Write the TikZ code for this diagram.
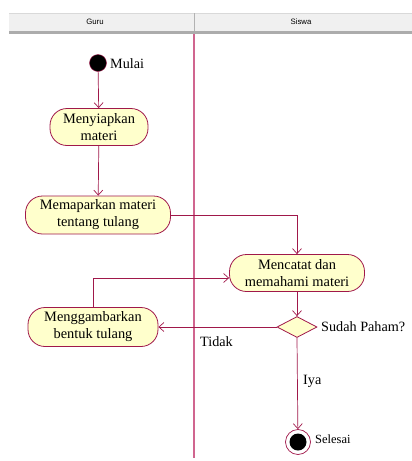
\documentclass[tikz,border=0pt]{standalone}
\usepackage{fontspec}
\setmainfont{Liberation Serif}
\newfontfamily\headfont{Liberation Sans}
\usetikzlibrary{arrows.meta,shapes.geometric}
\definecolor{lane}{HTML}{D0658F}
\definecolor{flow}{HTML}{A0184A}
\definecolor{actfill}{HTML}{FFFFCC}
\begin{document}
\begin{tikzpicture}[x=1pt,y=-1pt,
  act/.style={draw=flow, fill=actfill, line width=0.8pt, rounded corners=17pt, align=center,
    font=\fontsize{14.4}{17}\selectfont, inner sep=0pt, minimum height=37pt},
  flowline/.style={draw=flow, line width=0.7pt, -{Straight Barb[length=5pt,width=9pt]}},
  lbl/.style={font=\fontsize{14.2}{17}\selectfont, inner sep=0pt, anchor=west},
  head/.style={font=\headfont\fontsize{7.8}{9}\selectfont, inner sep=0pt}]
\useasboundingbox (0,0) rectangle (412,461);
% header
\fill[gray!12] (9,13) rectangle (412,31);
\draw[gray!30] (9,13) -- (412,13);
\fill[gray!65] (9,31) rectangle (412,34);
\draw[gray!60, line width=1pt] (194,13) -- (194,31);
\node[head] (guru) at (95,22) {Guru};
\node[head] (siswa) at (301,22) {Siswa};
\draw[lane, line width=1.2pt] (194,34) -- (194,458);
% nodes
\node[circle, fill=black, draw=flow, minimum size=17pt, inner sep=0pt] (s) at (98,63) {};
\node[lbl] (mulai) at (110,64) {Mulai};
\node[act, minimum width=98pt] (a1) at (99,127) {Menyiapkan\\materi};
\node[act, minimum width=145pt, minimum height=38pt] (a2) at (98,215) {Memaparkan materi\\tentang tulang};
\node[act, minimum width=135pt] (a3) at (297,273) {Mencatat dan\\memahami materi};
\node[act, minimum width=130pt, minimum height=39pt] (a4) at (93,327) {Menggambarkan\\bentuk tulang};
\node[diamond, draw=flow, fill=actfill, line width=0.8pt, minimum width=40pt, minimum height=21pt, inner sep=0pt] (d) at (297,327) {};
\node[lbl] (paham) at (321,327) {Sudah Paham?};
\node[lbl] (tidak) at (200,342) {Tidak};
\node[lbl] (iya) at (303,381) {Iya};
\node[circle, draw=flow, fill=white, line width=0.7pt, minimum size=25pt, inner sep=0pt] (e) at (298,442) {};
\node[circle, fill=black, minimum size=17pt, inner sep=0pt] (ei) at (e.center) {};
\node[lbl, font=\fontsize{12.5}{15}\selectfont] (selesai) at (315,439) {Selesai};
\coordinate (a3in) at ([yshift=-5pt]a3.west);
% flows
\draw[flowline] (s) -- (a1);
\draw[flowline] (a1) -- (a2);
\draw[flowline] (a2.east) -| (a3.north);
\draw[flowline] (a3) -- (d);
\draw[flowline] (d.west) -- (a4.east);
\draw[flowline] (a4.north) |- (a3in);
\draw[flowline] (d.south) -- (e);
\end{tikzpicture}
\end{document}
